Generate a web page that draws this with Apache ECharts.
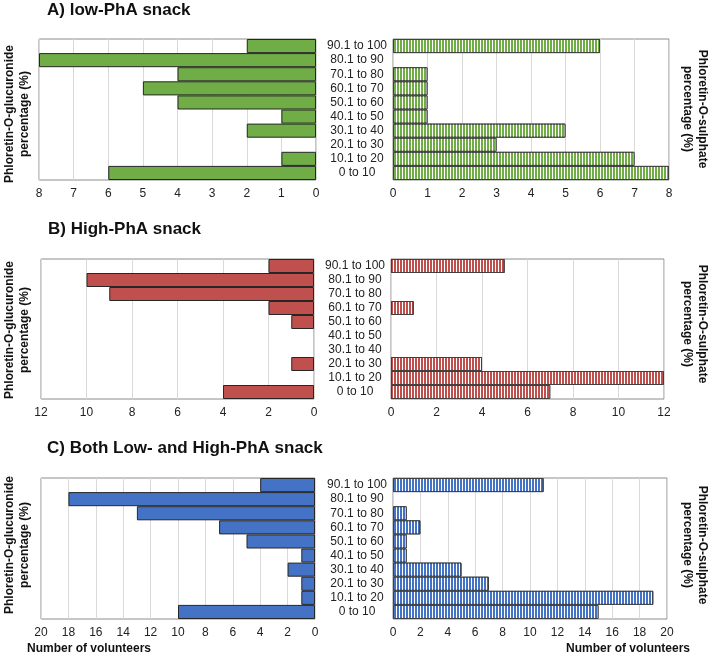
<!DOCTYPE html>
<html><head><meta charset="utf-8">
<script src="https://cdn.jsdelivr.net/npm/echarts@6/dist/echarts.min.js"></script>
<style>html,body{margin:0;padding:0;background:#fff}#c{width:710px;height:655px}</style>
</head><body><div id="c"></div>
<script>
// categories bottom-to-top
const categories = ["0 to 10","10.1 to 20","20.1 to 30","30.1 to 40","40.1 to 50","50.1 to 60","60.1 to 70","70.1 to 80","80.1 to 90","90.1 to 100"];
// A) low-PhA snack
const lowGluc = [6,1,0,2,1,4,5,4,8,2];
const lowSulph = [8,7,3,5,1,1,1,1,0,6];
// B) High-PhA snack
const highGluc = [4,0,1,0,0,1,2,9,10,2];
const highSulph = [7,12,4,0,0,0,1,0,0,5];
// C) Both
const bothGluc = [10,1,1,2,1,5,7,13,18,4];
const bothSulph = [15,19,7,5,1,1,2,1,0,11];

const panelTitles = ["A) low-PhA snack","B) High-PhA snack","C) Both Low- and High-PhA snack"];
const axisMax = [8,12,20];
const axisInterval = [1,2,2];
const colors = ["#70AD47","#C0504D","#4472C4"];
const glucData = [lowGluc, highGluc, bothGluc];
const sulphData = [lowSulph, highSulph, bothSulph];

const layout = [
  {l:[39,39,277,141], r:[393,39,276,141], title:[47,10], ly:114, ry:109},
  {l:[41,259,273,140], r:[391,259,273,140], title:[48,229], ly:330, ry:324},
  {l:[41,478,274,141], r:[393,478,274,141], title:[47,448], ly:545, ry:545}
];

const grid=[], xAxis=[], yAxis=[], series=[], graphic=[];
const font = "Liberation Sans, Arial, sans-serif";
layout.forEach((p,i)=>{
  ['l','r'].forEach((side,k)=>{
    const g = p[side];
    const idx = i*2+k;
    grid.push({left:g[0], top:g[1], width:g[2], height:g[3], show:true, borderColor:'#8c8c8c', borderWidth:1, containLabel:false});
    xAxis.push({type:'value', gridIndex:idx, min:0, max:axisMax[i], interval:axisInterval[i], inverse: side==='l',
      axisLine:{show:false}, axisTick:{show:false},
      axisLabel:{color:'#222', fontSize:12, fontFamily:font, margin:8},
      splitLine:{show:true, lineStyle:{color:'#d9d9d9', width:1}}});
    yAxis.push({type:'category', gridIndex:idx, data:categories, position:'left',
      axisLine:{show:false}, axisTick:{show:false},
      axisLabel:{show: side==='r', color:'#222', fontSize:12, fontFamily:font, align:'center', margin:36, interval:0},
      splitLine:{show:false}});
    const isR = side==='r';
    const vals = isR ? sulphData[i] : glucData[i];
    series.push({type:'bar', xAxisIndex:idx, yAxisIndex:idx,
      data: vals.map(v => v === 0 ? {value:0, itemStyle:{borderWidth:0, opacity:0}} : v),
      barWidth:'100%', silent:true,
      itemStyle:{color:colors[i], borderColor: isR ? '#404040' : '#262626', borderWidth:1,
        decal: isR ? {symbol:'rect', symbolSize:1, color:'#ffffff', dashArrayX:[1,2], dashArrayY:[5,0], rotation:0} : undefined}});
  });
  graphic.push({type:'text', x:p.title[0], y:p.title[1], style:{text:panelTitles[i], font:'bold 17px '+font, fill:'#111', align:'left', verticalAlign:'middle'}});
  graphic.push({type:'text', x:17, y:p.ly, rotation:Math.PI/2, style:{text:'Phloretin-O-glucuronide\npercentage (%)', font:'bold 12px '+font, fill:'#111', align:'center', verticalAlign:'middle', lineHeight:15}});
  graphic.push({type:'text', x:695, y:p.ry, rotation:-Math.PI/2, style:{text:'Phloretin-O-sulphate\npercentage (%)', font:'bold 12px '+font, fill:'#111', align:'center', verticalAlign:'middle', lineHeight:15}});
});
graphic.push({type:'text', x:27, y:649, style:{text:'Number of volunteers', font:'bold 12px '+font, fill:'#111', align:'left', verticalAlign:'middle'}});
graphic.push({type:'text', x:690, y:649, style:{text:'Number of volunteers', font:'bold 12px '+font, fill:'#111', align:'right', verticalAlign:'middle'}});

const chart = echarts.init(document.getElementById('c'));
chart.setOption({animation:false, backgroundColor:'#fff', grid, xAxis, yAxis, series, graphic});
</script></body></html>
